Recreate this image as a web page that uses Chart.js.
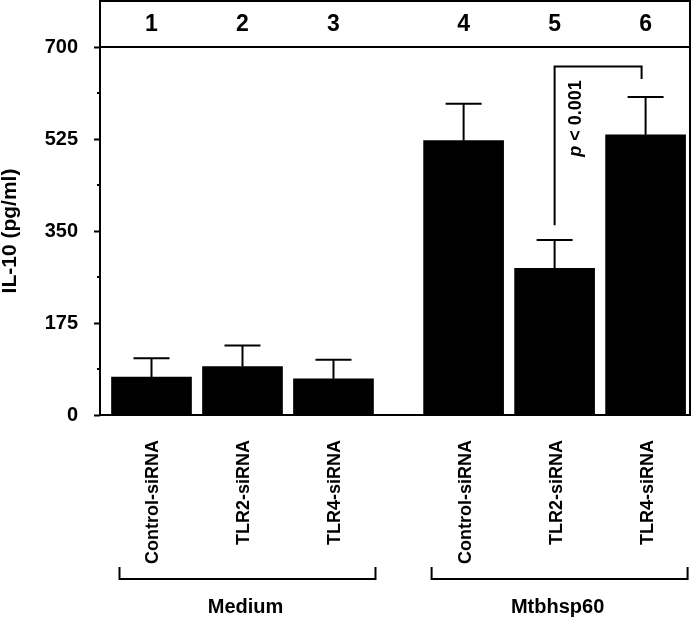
<!DOCTYPE html>
<html lang="en">
<head>
  <meta charset="UTF-8">
  <title>IL-10 after siRNA knockdown</title>
  <script src="https://cdn.jsdelivr.net/npm/chart.js"></script>
  <style>
    body {
      margin: 0;
      background-color: #fff;
    }
  </style>
</head>
<body>
  <canvas id="chart" width="693" height="619"></canvas>

  <script>
    const laneNumbers = ['1', '2', '3', '4', '5', '6'];
    const treatments = ['Control-siRNA', 'TLR2-siRNA', 'TLR4-siRNA', 'Control-siRNA', 'TLR2-siRNA', 'TLR4-siRNA'];
    const groups = ['Medium', 'Mtbhsp60'];
    const il10 = [72, 92, 69, 522, 279, 533];
    const il10Err = [36, 40, 36, 70, 54, 72];
    const yTicks = [0, 175, 350, 525, 700];
    const pText = 'p < 0.001';
    // comparison bracket between lanes 5 and 6 (in pg/ml)
    const bracketTop = 663;
    const bracketLeftEnd = 361;
    const bracketRightEnd = 639;

    const FONT = "'Liberation Sans', Arial, sans-serif";
    const groupGap = 0.43;
    const xPos = treatments.map((_, i) => i + 1 + (i >= 3 ? groupGap : 0));

    function line(ctx, x1, y1, x2, y2) {
      ctx.beginPath();
      ctx.moveTo(x1, y1);
      ctx.lineTo(x2, y2);
      ctx.stroke();
    }

    const overlay = {
      id: 'overlay',
      afterDatasetsDraw(chart) {
        const { ctx, chartArea: a, scales: { x, y } } = chart;
        ctx.save();
        ctx.strokeStyle = '#000';
        ctx.fillStyle = '#000';
        ctx.lineWidth = 2;

        // frame + header strip
        ctx.strokeRect(a.left, 1, a.right - a.left, a.bottom - 1);
        line(ctx, a.left, a.top, a.right, a.top);

        // minor ticks
        for (let i = 0; i < yTicks.length - 1; i++) {
          const py = y.getPixelForValue((yTicks[i] + yTicks[i + 1]) / 2);
          line(ctx, a.left - 3, py, a.left, py);
        }

        // error bars (upper only)
        il10.forEach((v, i) => {
          const px = x.getPixelForValue(xPos[i]);
          const top = y.getPixelForValue(v + il10Err[i]);
          line(ctx, px, y.getPixelForValue(v), px, top);
          line(ctx, px - 18, top, px + 18, top);
        });

        // significance bracket 5 vs 6
        const x5 = x.getPixelForValue(xPos[4]);
        const x6 = x.getPixelForValue(xPos[5]) - 4;
        ctx.beginPath();
        ctx.moveTo(x5, y.getPixelForValue(bracketLeftEnd));
        ctx.lineTo(x5, y.getPixelForValue(bracketTop));
        ctx.lineTo(x6, y.getPixelForValue(bracketTop));
        ctx.lineTo(x6, y.getPixelForValue(bracketRightEnd));
        ctx.stroke();

        ctx.save();
        ctx.translate(x5 + 21, 118.5);
        ctx.rotate(-Math.PI / 2);
        ctx.textBaseline = 'middle';
        ctx.textAlign = 'left';
        const italic = `italic bold 18px ${FONT}`;
        const bold = `bold 18px ${FONT}`;
        const head = pText.slice(0, 1), rest = pText.slice(1);
        ctx.font = italic;
        const w1 = ctx.measureText(head).width;
        ctx.font = bold;
        const w2 = ctx.measureText(rest).width;
        ctx.font = italic;
        ctx.fillText(head, -(w1 + w2) / 2, 0);
        ctx.font = bold;
        ctx.fillText(rest, -(w1 + w2) / 2 + w1, 0);
        ctx.restore();

        // lane numbers in header
        ctx.font = `bold 23px ${FONT}`;
        ctx.textAlign = 'center';
        ctx.textBaseline = 'middle';
        laneNumbers.forEach((n, i) => {
          ctx.fillText(n, x.getPixelForValue(xPos[i]), 25);
        });

        // treatment labels, rotated
        ctx.font = `bold 18px ${FONT}`;
        treatments.forEach((t, i) => {
          ctx.save();
          ctx.translate(x.getPixelForValue(xPos[i]) + 2, a.bottom + 25);
          ctx.rotate(-Math.PI / 2);
          ctx.textAlign = 'right';
          ctx.textBaseline = 'middle';
          ctx.fillText(t, 0, 0);
          ctx.restore();
        });

        // group brackets + names
        ctx.font = `bold 20px ${FONT}`;
        ctx.textAlign = 'center';
        groups.forEach((g, k) => {
          const first = x.getPixelForValue(xPos[k * 3]);
          const mid = x.getPixelForValue(xPos[k * 3 + 1]);
          const last = x.getPixelForValue(xPos[k * 3 + 2]);
          const l = first - 32, r = last + 42;
          ctx.beginPath();
          ctx.moveTo(l, 567);
          ctx.lineTo(l, 579);
          ctx.lineTo(r, 579);
          ctx.lineTo(r, 567);
          ctx.stroke();
          ctx.fillText(g, mid + 3, 607);
        });

        ctx.restore();
      }
    };

    const ctx = document.getElementById('chart').getContext('2d');
    new Chart(ctx, {
      type: 'bar',
      data: {
        datasets: [{
          data: il10.map((v, i) => ({ x: xPos[i], y: v })),
          backgroundColor: '#000',
          borderWidth: 0,
          barThickness: 80
        }]
      },
      options: {
        responsive: false,
        animation: false,
        layout: { padding: { top: 47, right: 3, bottom: 204, left: 0 } },
        plugins: {
          legend: { display: false },
          tooltip: { enabled: false }
        },
        scales: {
          x: {
            type: 'linear',
            offset: false,
            min: 0.434,
            max: 6.918,
            display: false
          },
          y: {
            min: 0,
            max: 700,
            border: { display: false },
            grid: {
              drawOnChartArea: false,
              tickLength: 6,
              tickWidth: 2,
              tickColor: c => (c.tick && yTicks.includes(c.tick.value)) ? '#000' : 'rgba(0,0,0,0)'
            },
            ticks: {
              stepSize: 87.5,
              padding: 16,
              color: '#000',
              font: { family: FONT, size: 20, weight: 'bold' },
              callback: v => yTicks.includes(v) ? v : ''
            },
            title: {
              display: true,
              text: 'IL-10 (pg/ml)',
              color: '#000',
              padding: 0,
              font: { family: FONT, size: 21, weight: 'bold', lineHeight: 1 }
            },
            afterFit: s => { s.width = 100; }
          }
        }
      },
      plugins: [overlay]
    });
  </script>
</body>
</html>
